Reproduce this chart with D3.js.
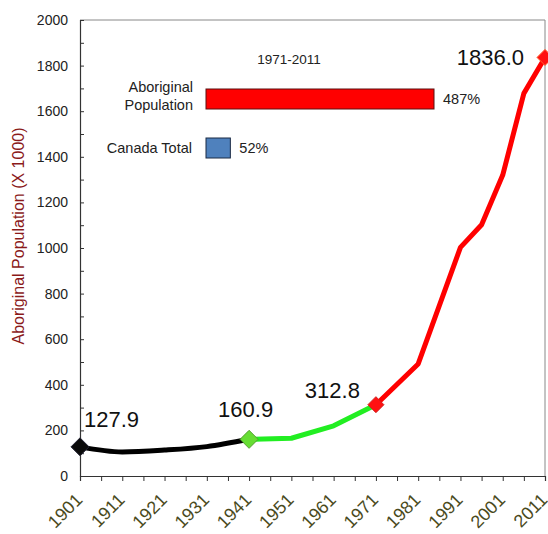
<!DOCTYPE html>
<html><head><meta charset="utf-8">
<script src="https://cdn.jsdelivr.net/npm/d3@7"></script>
<style>body{margin:0;background:#fff}svg{display:block;font-family:"Liberation Sans",Arial,sans-serif}</style>
</head><body><svg id="c" width="548" height="534"></svg>
<script>
const blackYears = [1901, 1911, 1921, 1931, 1941];
const blackValues = [127.9, 105.6, 113.7, 128.9, 160.9];
const greenYears = [1941, 1951, 1961, 1971];
const greenValues = [160.9, 165.6, 220.1, 312.8];
const redYears = [1971, 1981, 1991, 1996, 2001, 2006, 2011];
const redValues = [312.8, 491.5, 1002.7, 1102.0, 1319.9, 1678.2, 1836.0];
const labelYears = [1901, 1941, 1971, 2011];
const labelTexts = ["127.9", "160.9", "312.8", "1836.0"];
const xTickLabels = [1901, 1911, 1921, 1931, 1941, 1951, 1961, 1971, 1981, 1991, 2001, 2011];
const yTickLabels = [0, 200, 400, 600, 800, 1000, 1200, 1400, 1600, 1800, 2000];
const insetCats = ["Aboriginal Population", "Canada Total"];
const insetValues = [487, 52];

const svg = d3.select("#c");
const L = 80, R = 545, T = 20, B = 476;
const x = d3.scaleLinear().domain([1901, 2011]).range([L, R]);
const y = d3.scaleLinear().domain([0, 2000]).range([B, T]);

// frame
svg.append("path").attr("d", `M${L},${T}H${R}V${B}`).attr("fill", "none").attr("stroke", "#888").attr("stroke-width", 1);

// y axis
const yAx = svg.append("g").attr("transform", `translate(${L},0)`)
  .call(d3.axisLeft(y).tickValues(d3.range(0, 2001, 100)).tickSize(-4).tickFormat(d => yTickLabels.includes(d) ? d : ""));
yAx.select(".domain").attr("stroke", "#333").attr("stroke-width", 1.2);
yAx.selectAll(".tick line").attr("stroke", "#333");
yAx.selectAll(".tick text").attr("x", -12).attr("font-size", 14).attr("fill", "#222").attr("font-family", "Liberation Sans, Arial");

// x axis
const xAx = svg.append("g").attr("transform", `translate(0,${B})`)
  .call(d3.axisBottom(x).tickValues(d3.range(1901, 2012, 5)).tickSize(5).tickFormat(d => xTickLabels.includes(d) ? d : ""));
xAx.select(".domain").attr("stroke", "#333").attr("stroke-width", 1.2);
xAx.selectAll(".tick line").attr("stroke", "#333");
xAx.selectAll(".tick text").attr("font-size", 18).attr("fill", "#4a4a1c")
  .attr("font-family", "Liberation Sans, Arial")
  .attr("text-anchor", "end").attr("dy", null).attr("y", 0)
  .attr("transform", "translate(3,25) rotate(-45)");

// y axis title
svg.append("text").attr("transform", "translate(20,236) rotate(-90)").attr("text-anchor", "middle")
  .attr("dominant-baseline", "middle")
  .attr("font-size", 16).attr("fill", "#8b1a1a").text("Aboriginal Population (X 1000)");

// lines
const line = d3.line().x(d => x(d[0])).y(d => y(d[1]));
const lineSmooth = d3.line().x(d => x(d[0])).y(d => y(d[1])).curve(d3.curveMonotoneX);
svg.append("path").datum(d3.zip(greenYears, greenValues)).attr("d", line).attr("fill", "none").attr("stroke", "#22ee22").attr("stroke-width", 5).attr("stroke-linejoin", "round");
svg.append("path").datum(d3.zip(redYears, redValues)).attr("d", line).attr("fill", "none").attr("stroke", "#ff0000").attr("stroke-width", 5).attr("stroke-linejoin", "round");
svg.append("path").datum(d3.zip(blackYears, blackValues)).attr("d", lineSmooth).attr("fill", "none").attr("stroke", "#000").attr("stroke-width", 5).attr("stroke-linecap", "round");

// markers
const allYears = blackYears.concat(greenYears, redYears);
const allValues = blackValues.concat(greenValues, redValues);
const valOf = yr => allValues[allYears.indexOf(yr)];
const markerFill = ["#0a0a0a", "#66dd33", "#ff1111", "#ff1111"];
const markerStroke = ["#223", "#55a030", "#d02020", "#ff6030"];
const markerSize = [9, 9, 8, 8];
labelYears.forEach((yr, i) => {
  const s = markerSize[i];
  svg.append("path").attr("d", `M0,${-s}L${s},0L0,${s}L${-s},0Z`)
    .attr("transform", `translate(${x(yr)},${y(valOf(yr))})`)
    .attr("fill", markerFill[i]).attr("stroke", markerStroke[i]).attr("stroke-width", 1);
});

// value labels
const lblAnchor = ["start", "start", "end", "end"];
const lblDx = [4, -31, -16, -21];
const lblDy = [-20, -22, -7, 8];
labelYears.forEach((yr, i) => {
  svg.append("text").attr("x", x(yr) + lblDx[i]).attr("y", y(valOf(yr)) + lblDy[i])
    .attr("text-anchor", lblAnchor[i])
    .attr("font-size", 22).attr("fill", "#111").text(labelTexts[i]);
});

// inset
const bx = d3.scaleLinear().domain([0, 487]).range([206, 434]);
svg.append("text").attr("x", 289).attr("y", 64).attr("text-anchor", "middle").attr("font-size", 13.5).attr("fill", "#222").text("1971-2011");
const barColors = ["#ff0000", "#4f81bd"];
const barTops = [89, 138];
insetCats.forEach((c, i) => {
  const h = 20;
  const top = barTops[i];
  svg.append("rect").attr("x", bx(0)).attr("y", top).attr("width", bx(insetValues[i]) - bx(0)).attr("height", h)
    .attr("fill", barColors[i]).attr("stroke", i === 0 ? "#5a1010" : "#1a2a44").attr("stroke-width", 1);
  svg.append("text").attr("x", bx(insetValues[i]) + 9).attr("y", top + 15).attr("font-size", 14.5).attr("fill", "#222").text(insetValues[i] + "%");
  if (i === 0) {
    svg.append("text").attr("x", 193).attr("y", top + 3).attr("text-anchor", "end").attr("font-size", 14.5).attr("fill", "#222").text("Aboriginal");
    svg.append("text").attr("x", 193).attr("y", top + 21).attr("text-anchor", "end").attr("font-size", 14.5).attr("fill", "#222").text("Population");
  } else {
    svg.append("text").attr("x", 192).attr("y", top + 15).attr("text-anchor", "end").attr("font-size", 14.5).attr("fill", "#222").text(c);
  }
});
</script></body></html>
